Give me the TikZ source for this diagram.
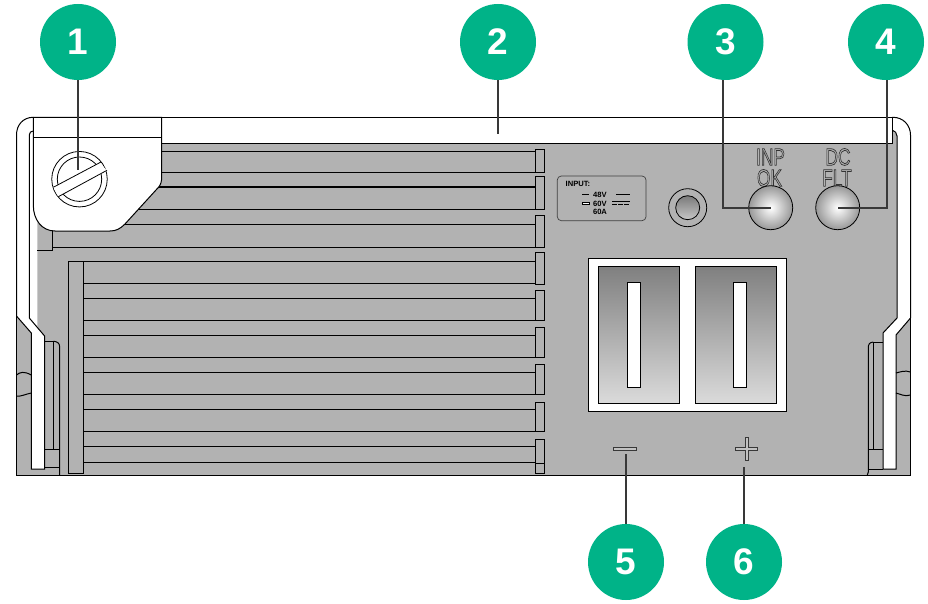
\documentclass[tikz,border=0pt]{standalone}
\usepackage{fontspec}
\setmainfont{Liberation Sans}
\definecolor{panel}{RGB}{178,178,178}
\definecolor{badge}{RGB}{0,179,136}
\definecolor{lead}{RGB}{56,56,56}
\newcommand{\outlined}[1]{\special{pdf:code 1 Tr 0.75 w 0.2 G}#1\special{pdf:code 0 Tr}}
\tikzset{
  ln/.style={draw=black,line width=1pt},
  badgenode/.style={circle,fill=badge,minimum size=76pt,inner sep=0pt,text=white,font=\fontsize{37}{37}\selectfont\bfseries},
  leader/.style={draw=lead,line width=2.2pt},
  led/.style={circle,draw=black,line width=.8pt,minimum size=44pt,inner sep=0pt,inner color=white,outer color=panel!85!black},
  ledtext/.style={inner sep=0pt,font=\fontsize{24}{24}\selectfont,xscale=.72,transform shape},
  tiny/.style={inner sep=0pt,font=\fontsize{7.6}{7.6}\selectfont\bfseries,text=black},
  grad/.style={ln,top color=black!50,bottom color=black!14},
  whitebox/.style={ln,fill=white},
  block/.style={ln,fill=panel},
  polmark/.style={draw=lead,line width=.8pt,fill=panel!80!white}
}
\begin{document}
\begin{tikzpicture}[x=1pt,y=-1pt]
\useasboundingbox (0,0) rectangle (928,604);
% body
\fill[panel] (100,143) -- (892,143) -- (892,130) -- (897,135) -- (897,318) -- (883,333) -- (883,469) -- (896,469) -- (896,335) -- (910.5,318) -- (910.5,475.5) -- (16.5,475.5) -- (16.5,316) -- (31.3,333) -- (31.3,469) -- (44.6,469) -- (44.6,336) -- (37.3,328) -- (37.3,200) -- (100,200) -- cycle;
% rows upper
\foreach \yy in {151.5,172.7,187,209.7,224.5} \draw[ln] (100,\yy) -- (535.5,\yy);
\draw[ln] (52.5,247.5) -- (535.5,247.5);
\draw[ln] (52.5,225) -- (52.5,250) -- (37.3,250);
\draw[ln] (68.3,261.5) -- (535.5,261.5);
\foreach \yy in {283.7,298.3,320.3,335.3,357.3,372.3,394.3,409.3,431.3,446.3,462.3} \draw[ln] (83.3,\yy) -- (535.5,\yy);
\draw[block] (68.3,261.5) rectangle (83.3,473.3);
% end blocks
\foreach \ya/\yb in {149.5/172.7,177/209.7,215/247.5,252.7/284,290.7/320.3,327/357.3,364/394.3,402/431.3,439/473}
  \draw[ln] (535.5,\yb) -- (535.5,\ya) -- (544.5,\ya) -- (544.5,\yb) -- cycle;
\draw[ln] (535.5,463) -- (544.5,463);
% left rail
\draw[ln] (33.3,117.3) .. controls (23,117.3) and (16.5,125) .. (16.5,135) -- (16.5,316) -- (31.3,333) -- (31.3,469) -- (44.6,469) -- (44.6,336) -- (29.3,318) -- (29.3,135) .. controls (29.3,132.5) and (31,131) .. (33.3,131);
\draw[ln] (16.5,316) -- (16.5,475.5) -- (910.5,475.5) -- (910.5,318);
\draw[ln] (16.5,375) .. controls (20,372) and (24,371) .. (31.3,375);
\draw[ln] (16.5,396) .. controls (20,397) and (26,394) .. (31.3,393);
\draw[ln] (44.6,341.3) -- (53.3,341.3) -- (53.3,449);
\draw[ln] (53.3,341.3) .. controls (57,341.3) and (59.7,343) .. (59.7,347) -- (59.7,475);
\draw[ln] (44.6,449) -- (59.7,449);
\draw[ln] (44.6,467.3) -- (59.7,467.3);
% right rail
\draw[ln] (892,117.3) -- (893,117.3) .. controls (903,117.3) and (910.5,125) .. (910.5,135) -- (910.5,318) -- (896,335) -- (896,469) -- (883,469) -- (883,333) -- (897,318) -- (897,136) .. controls (897,133) and (895,131) .. (892,130);
\draw[ln] (896,373) .. controls (900,372) and (905,370) .. (910.5,372);
\draw[ln] (896,393) .. controls (900,394) and (905,397) .. (910.5,395);
\draw[ln] (883,342) -- (873.3,342) -- (873.3,449);
\draw[ln] (873.3,342) .. controls (870,342.5) and (868.3,344) .. (868.3,346) -- (868.3,472) -- (867.3,475);
\draw[ln] (868.3,449) -- (883,449);
\draw[ln] (868.3,469) -- (883,469);
% top band and tab
\fill[white] (33.3,117.3) rectangle (892,143);
\draw[ln] (33.3,117.3) -- (892,117.3) -- (892,143.3) -- (161.5,143.3);
\draw[ln,fill=white] (33.3,117.3) -- (161.5,117.3) -- (161.5,180) .. controls (161,184) and (160,186) .. (156,190) -- (125,224) .. controls (120,229) and (116,231) .. (110,231) -- (55,231) .. controls (42,231) and (33.3,220) .. (33.3,205) -- cycle;
\draw[ln] (33.3,137.3) -- (161.5,137.3);
% screw
\node[circle,draw=black,line width=.8pt,minimum size=55.5pt,inner sep=0pt] (screw) at (79.5,179.2) {};
\draw[line width=.8pt] (screw.center) circle (22.2);
\fill[white] (53.3,187.3) -- (100,162.7) -- (107,170.7) -- (58.3,196.7) -- cycle;
\draw[line width=.8pt] (53.3,187.3) -- (101,162);
\draw[line width=.8pt] (58.3,196.7) -- (107,170.3);
% power label
\draw[draw=black!75,line width=.7pt,rounded corners=4pt] (557.3,176) rectangle (646,220.7);
\node[tiny,anchor=west] (inp) at (565.5,184) {INPUT:};
\node[tiny] (v1) at (600,194.5) {48V};
\node[tiny] (v2) at (600,203.5) {60V};
\node[tiny] (v3) at (600,212) {60A};
\draw[line width=1pt] (582,194.5) -- (589,194.5);
\draw[line width=.6pt,fill=white] (582,202.5) rectangle (589,204);
\draw[line width=1pt] (616,194.5) -- (630,194.5);
\draw[line width=1pt] (612,201.5) -- (630,201.5);
\draw[line width=1pt,dash pattern=on 5pt off 1pt] (612,204.5) -- (630,204.5);
% jack
\node[circle,draw=black,line width=.8pt,minimum size=38pt,inner sep=0pt] (jack) at (687.7,207.7) {};
\node[circle,draw=black,line width=.8pt,minimum size=24pt,inner sep=0pt,top color=black!52,bottom color=black!22] (jackin) at (jack.center) {};
% leds
\node[ledtext] (t1) at (770.5,157) {\outlined{INP}};
\node[ledtext] (t2) at (769.5,178) {\outlined{OK}};
\node[ledtext] (t3) at (838,157) {\outlined{DC}};
\node[ledtext] (t4) at (837,178) {\outlined{FLT}};
\node[led] (led3) at (770.7,207.7) {};
\node[led] (led4) at (837.7,207.7) {};
% window
\draw[whitebox] (588.3,258.3) rectangle (786.3,411.3);
\draw[grad] (598.3,266.3) rectangle (679.7,403.7);
\draw[grad] (695.3,266.3) rectangle (776.7,403.7);
\draw[whitebox] (627.3,282.3) rectangle (640.7,387.3);
\draw[whitebox] (733.3,282.3) rectangle (746.7,387.3);
% polarity marks
\draw[polmark] (613.3,447.5) rectangle (636,450.8);
\draw[polmark] (745,437.5) -- (748.3,437.5) -- (748.3,447.5) -- (757.7,447.5) -- (757.7,450.8) -- (748.3,450.8) -- (748.3,460) -- (745,460) -- (745,450.8) -- (735.3,450.8) -- (735.3,447.5) -- (745,447.5) -- cycle;
\coordinate (e1) at (78,170);
\coordinate (e2) at (498,134);
\coordinate (c3) at (723.3,207.7);
\coordinate (c4) at (887,207.7);
\coordinate (e5) at (626,454);
\coordinate (e6) at (744,467);
% badges
\node[badgenode] (b1) at (78,42) {1};
\node[badgenode] (b2) at (498,42) {2};
\node[badgenode] (b3) at (725.5,42) {3};
\node[badgenode] (b4) at (886,42) {4};
\node[badgenode] (b5) at (626,562) {5};
\node[badgenode] (b6) at (744,562) {6};
% leaders
\draw[leader] (b1.south) -- (e1);
\draw[leader] (b2.south) -- (e2);
\draw[leader] (b3.south -| c3) -- (c3) -- (led3.center);
\draw[leader] (b4.south -| c4) -- (c4) -- (led4.center);
\draw[leader] (b5.north) -- (e5);
\draw[leader] (b6.north) -- (e6);
\end{tikzpicture}
\end{document}
